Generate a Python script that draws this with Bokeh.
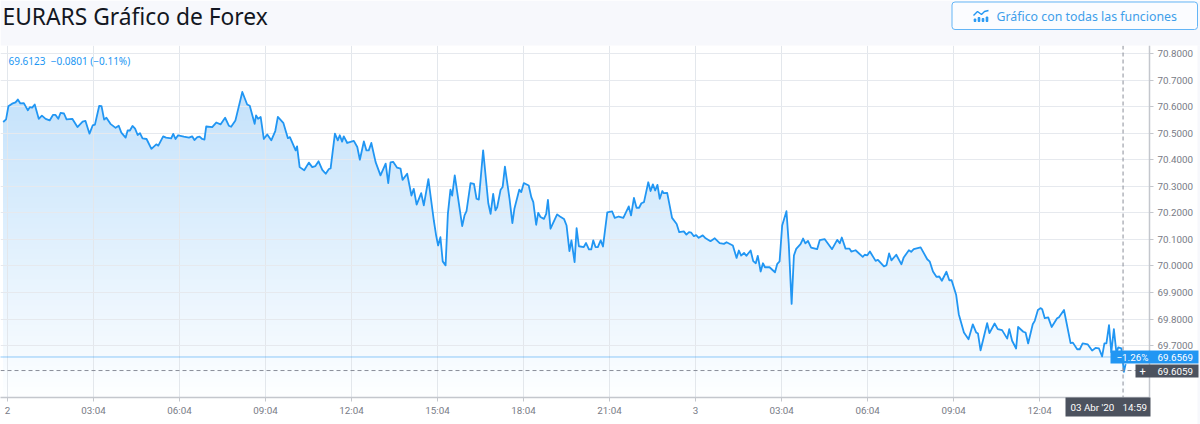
import numpy as np
from bokeh.embed import file_html
from bokeh.resources import INLINE
from bokeh.plotting import figure
from bokeh.models import FixedTicker, Label, NumeralTickFormatter, Range1d, Span

HOURS = [
-0.15,-0.05,0.03,0.16,0.28,0.36,0.45,0.57,0.71,0.78,0.86,0.95,1.09,1.20,1.33,1.47,1.59,1.67,1.77,1.85,1.97,2.06,2.26,2.44,2.62,2.72,2.86,2.97,3.05,3.20,3.28,3.37,3.45,3.59,3.77,3.88,3.97,4.12,4.19,4.27,4.36,4.45,4.54,4.62,4.71,4.85,5.02,5.19,5.26,5.43,5.53,5.71,5.78,5.86,5.95,6.15,6.33,6.44,6.52,6.62,6.70,6.79,6.87,6.93,7.14,7.28,7.43,7.59,7.72,7.80,7.95,8.19,8.36,8.45,8.62,8.67,8.74,8.83,8.94,9.06,9.20,9.34,9.43,9.62,9.78,9.85,10.05,10.10,10.19,10.35,10.51,10.63,10.74,10.85,10.98,11.10,11.21,11.27,11.42,11.52,11.59,11.67,11.73,11.85,12.08,12.20,12.29,12.43,12.52,12.60,12.69,12.84,13.01,13.19,13.28,13.36,13.45,13.59,
13.71,13.78,13.94,14.09,14.17,14.27,14.43,14.52,14.68,14.87,14.95,15.02,15.10,15.18,15.28,15.36,15.45,15.51,15.60,15.86,15.94,16.01,16.15,16.27,16.36,16.44,16.59,16.77,16.85,16.94,17.02,17.08,17.20,17.27,17.35,17.51,17.61,17.68,17.85,17.92,18.01,18.18,18.27,18.34,18.44,18.51,18.59,18.71,18.79,18.85,18.94,19.17,19.27,19.41,19.50,19.60,19.67,19.78,19.85,19.93,20.10,20.18,20.28,20.36,20.43,20.51,20.59,20.69,20.77,20.92,21.09,21.18,21.32,21.48,21.67,21.75,21.85,21.94,22.03,22.11,22.20,22.35,22.43,22.51,22.59,22.67,22.75,22.84,22.89,23.01,23.18,23.34,23.43,23.59,23.68,23.77,23.85,23.94,24.02,24.11,24.25,24.35,24.52,24.67,24.84,24.99,25.08,25.30,25.43,25.51,25.59,25.69,25.77,25.92,26.01,26.10,26.17,26.27,26.35,26.42,26.58,26.77,26.85,26.93,27.02,27.17,27.25,27.35,27.43,27.51,
27.66,27.75,27.83,27.92,28.03,28.24,28.33,28.50,28.76,28.94,29.03,29.10,29.23,29.37,29.43,29.58,29.83,29.90,29.99,30.08,30.28,30.36,30.57,30.66,30.75,30.83,31.00,31.18,31.26,31.44,31.52,31.61,31.85,32.08,32.17,32.28,32.40,32.50,32.59,32.75,32.85,32.93,33.09,33.18,33.36,33.52,33.67,33.79,33.85,33.94,34.17,34.25,34.43,34.54,34.69,34.87,34.94,35.04,35.18,35.25,35.43,35.51,35.60,35.76,35.83,35.94,36.03,36.09,36.18,36.30,36.42,36.61,36.67,36.85,37.08,37.16,37.31,37.40,37.50,37.68,37.83,37.95,38.07,38.18,38.26,38.33,38.42,38.50,38.59,38.68,38.74,38.85,38.94,39.00]

PRICES = [
70.542,70.552,70.601,70.611,70.616,70.627,70.612,70.613,70.586,70.598,70.596,70.608,70.554,70.566,70.554,70.548,70.569,70.569,70.554,70.576,70.574,70.552,70.554,70.523,70.543,70.546,70.498,70.529,70.532,70.603,70.602,70.551,70.558,70.535,70.520,70.528,70.502,70.483,70.510,70.510,70.527,70.517,70.493,70.500,70.480,70.478,70.441,70.458,70.453,70.488,70.483,70.480,70.497,70.478,70.492,70.487,70.483,70.488,70.474,70.485,70.487,70.478,70.476,70.525,70.523,70.540,70.533,70.558,70.528,70.524,70.548,70.655,70.608,70.603,70.535,70.567,70.554,70.561,70.478,70.495,70.473,70.508,70.561,70.539,70.481,70.485,70.435,70.450,70.372,70.360,70.389,70.372,70.376,70.394,70.362,70.347,70.365,70.367,70.498,70.473,70.492,70.468,70.488,70.463,70.471,70.448,70.400,70.469,70.435,70.435,70.463,70.391,70.341,70.385,70.312,70.390,70.392,70.370,
70.366,70.324,70.347,70.265,70.290,70.231,70.274,70.228,70.327,70.171,70.115,70.077,70.108,70.017,70.002,70.196,70.287,70.265,70.341,70.150,70.190,70.206,70.312,70.309,70.253,70.250,70.435,70.236,70.196,70.271,70.209,70.221,70.287,70.297,70.374,70.253,70.161,70.215,70.287,70.278,70.312,70.303,70.259,70.240,70.155,70.200,70.184,70.177,70.196,70.249,70.140,70.194,70.186,70.177,70.152,70.056,70.096,70.014,70.142,70.074,70.071,70.086,70.062,70.062,70.096,70.071,70.071,70.096,70.073,70.202,70.205,70.181,70.186,70.181,70.224,70.190,70.256,70.219,70.219,70.236,70.240,70.315,70.282,70.307,70.284,70.305,70.253,70.282,70.274,70.275,70.181,70.158,70.127,70.130,70.118,70.127,70.125,70.112,70.116,70.106,70.115,70.104,70.093,70.104,70.086,70.083,70.089,70.077,70.030,70.058,70.039,70.049,70.038,70.058,70.018,70.010,70.038,69.979,70.010,69.995,69.995,69.976,70.008,70.017,70.152,70.206,70.083,69.857,70.039,70.064,
70.082,70.103,70.085,70.094,70.069,70.063,70.097,70.101,70.063,70.098,70.085,70.107,70.065,70.065,70.054,70.059,70.034,70.042,70.040,70.054,70.019,70.023,69.998,70.003,70.047,70.021,70.042,70.006,70.032,70.059,70.053,70.063,70.070,70.025,70.016,69.979,69.959,69.960,69.944,69.978,69.946,69.946,69.890,69.818,69.749,69.724,69.780,69.749,69.745,69.682,69.784,69.747,69.783,69.762,69.758,69.726,69.762,69.718,69.689,69.770,69.752,69.749,69.708,69.780,69.793,69.834,69.841,69.837,69.803,69.806,69.770,69.803,69.806,69.834,69.709,69.711,69.686,69.686,69.708,69.704,69.681,69.691,69.689,69.659,69.708,69.708,69.777,69.674,69.762,69.671,69.693,69.689,69.601,69.630]

PRICE_TICKS = [69.7, 69.8, 69.9, 70.0, 70.1, 70.2, 70.3, 70.4, 70.5, 70.6, 70.7, 70.8]
TIME_TICKS = [0, 3, 6, 9, 12, 15, 18, 21, 24, 27, 30, 33, 36]
TIME_LABELS = ["2", "03:04", "06:04", "09:04", "12:04", "15:04", "18:04", "21:04",
               "3", "03:04", "06:04", "09:04", "12:04"]
LAST_PRICE = 69.6569
CROSS_PRICE = 69.6059
CROSS_HOUR = 38.91

BLUE = "#2196f3"
GREY = "#787b86"
DARK = "#4c525e"
PAPER = "#f7f8fc"
UI = "Noto Sans"
NUM = "Roboto"
FILL_TOP = np.array([0xc4, 0xe2, 0xfb])
FILL_BOTTOM = np.array([0xfd, 0xfe, 0xff])

# page pixel -> data, used only for the plot ranges and the fade
PX_H, PX_P = 28.67, 265.5
def fx(px): return (px - 7) / PX_H
def fy(py): return 70.8 - (py - 53) / PX_P

FIXED = {"position": "absolute", "left": "0px", "top": "0px"}

# ---------- chart ----------
p = figure(width=1200, height=424, output_backend="svg", toolbar_location=None,
           y_axis_location="right",
           x_range=Range1d(fx(0), fx(1149)), y_range=Range1d(fy(397), fy(45)),
           min_border_left=0, min_border_right=51, min_border_top=45, min_border_bottom=27)
p.styles = FIXED
p.outline_line_color = None
p.background_fill_color = "white"
p.border_fill_color = "white"

p.xaxis.ticker = FixedTicker(ticks=TIME_TICKS)
p.xaxis.major_label_overrides = dict(zip(TIME_TICKS, TIME_LABELS))
p.yaxis.ticker = FixedTicker(ticks=PRICE_TICKS)
p.yaxis.formatter = NumeralTickFormatter(format="0.0000")
for ax in (p.xaxis, p.yaxis):
    ax.axis_line_color = "#c4c7cd"
    ax.axis_line_width = 1.5
    ax.major_tick_line_color = "#c4c7cd"
    ax.major_tick_out = 4
    ax.major_tick_in = 0
    ax.minor_tick_line_color = None
    ax.major_label_text_font = NUM
    ax.major_label_text_font_size = "9.8px"
    ax.major_label_text_color = GREY
p.xaxis.major_label_standoff = 3
p.yaxis.major_label_standoff = 4
p.xgrid.ticker = FixedTicker(ticks=TIME_TICKS)
p.ygrid.ticker = FixedTicker(ticks=PRICE_TICKS)
p.xgrid.grid_line_color = "#e3e7ec"
p.ygrid.grid_line_color = "#e6e9ee"

h = np.array(HOURS)
v = np.array(PRICES)

# vertical fade of the area: opaque layers painted bottom to top, below the grid
for t in np.linspace(0, 1, 60):
    lo = fy(397) + t * (fy(95) - fy(397))
    r, g, b = (FILL_BOTTOM + t * (FILL_TOP - FILL_BOTTOM)).round().astype(int)
    p.varea(h, np.minimum(v, lo), v, fill_color=f"#{r:02x}{g:02x}{b:02x}", level="image")

p.line(h, v, line_color=BLUE, line_width=1.8, line_join="round")

p.line([fx(0), fx(1149)], [LAST_PRICE, LAST_PRICE], line_color=BLUE, line_dash="1 1", line_width=1)
p.add_layout(Span(location=CROSS_PRICE, dimension="width", line_color="#8a8e99",
                  line_dash="4 3", line_width=1))
p.add_layout(Span(location=CROSS_HOUR, dimension="height", line_color="#8a8e99",
                  line_dash="4 3", line_width=1))

p.add_layout(Label(x=fx(8), y=fy(60), text="69.6123\u00a0 −0.0801 (−0.11%)", text_color=BLUE,
                   text_font=UI, text_font_size="10px", text_baseline="middle"))

# ---------- page furniture: a transparent sheet in page pixels over the chart ----------
sheet = figure(width=1200, height=424, output_backend="svg", toolbar_location=None,
               x_range=Range1d(0, 1200), y_range=Range1d(424, 0),
               min_border=0, x_axis_type=None, y_axis_type=None)
sheet.styles = FIXED
sheet.grid.visible = False
sheet.outline_line_color = None
sheet.background_fill_alpha = 0
sheet.border_fill_alpha = 0

def box(l, r, t, b, color):
    sheet.quad(left=[l], right=[r], top=[t], bottom=[b], fill_color=color, line_color=None)

def text(x, y, s, color="white", size="9.8px", font=NUM, align="left"):
    sheet.add_layout(Label(x=x, y=y, text=s, text_color=color, text_font=font, text_font_size=size,
                           text_align=align, text_baseline="middle"))

# header band and card edge
box(0, 1200, 0, 45, PAPER)
box(1197, 1200, 45, 424, PAPER)
text(2, 16, "EURARS Gráfico de Forex", "#131722", "22.8px", UI)

# button
sheet.quad(left=[951.5], right=[1197], top=[1.5], bottom=[29], fill_color="#fbfcff",
           line_color="#64b5f6", line_width=1, border_radius=3)
text(996, 15.5, "Gráfico con todas las funciones", "#3f9fea", "12.35px", UI)
sheet.line([973, 977, 981, 984, 988], [15, 11, 14, 11, 10], line_color=BLUE, line_width=1.4)
sheet.vbar(x=[974.5, 978.5, 982.5, 986.5], width=1.6, bottom=21, top=[18.5, 17, 18, 16.5], color=BLUE)

# price tags on the axis
box(1110, 1198, 350, 363, BLUE)
text(1116, 356.5, "−1.26%")
text(1157, 356.5, "69.6569")
box(1135, 1198, 364, 377, DARK)
text(1142, 370.5, "+", size="11px", align="center")
text(1157, 370.5, "69.6059")

# date tag on the time axis
box(1065, 1150, 397, 416, DARK)
text(1070, 406.5, "03 Abr '20")
text(1122, 406.5, "14:59")

open("out.html", "w").write(file_html([p, sheet], INLINE))
